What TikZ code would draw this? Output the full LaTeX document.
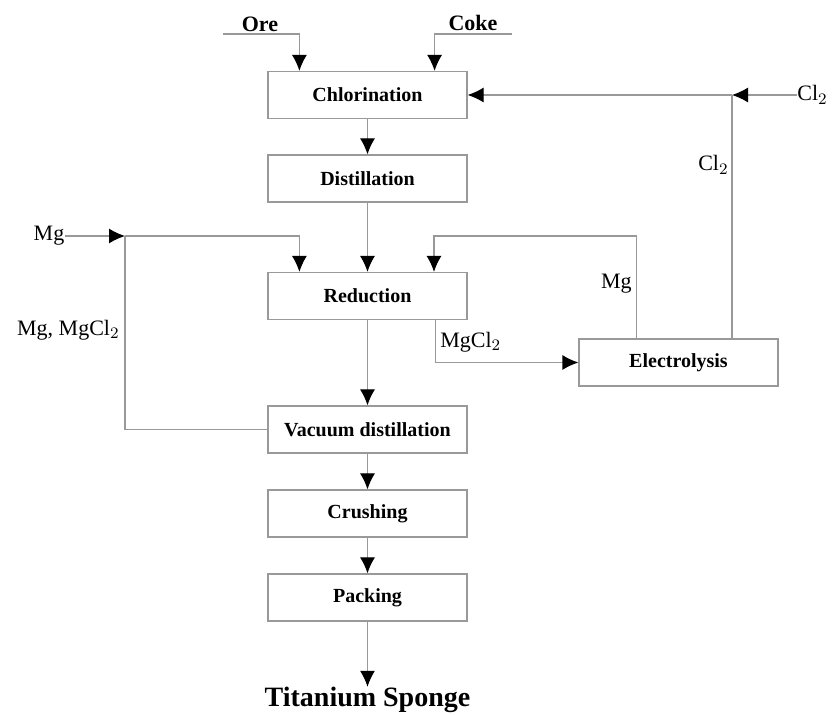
\documentclass[tikz,border=0pt]{standalone}
\usepackage{fontspec}
\setmainfont{Liberation Serif}
\usetikzlibrary{arrows.meta}

\tikzset{
    unitbox/.style={draw=gray!80, line width=0.6pt, minimum width=99.5pt, minimum height=23.5pt, inner sep=0pt, font=\fontsize{10}{12}\selectfont\bfseries},
    flow/.style={draw=gray!80, line width=0.6pt, -{Latex[length=8pt,width=7.5pt,black]}},
    pipe/.style={draw=gray!80, line width=0.6pt},
    stream/.style={inner sep=0pt, font=\fontsize{11}{13}\selectfont},
    feed/.style={inner sep=0pt, font=\fontsize{11}{13}\selectfont\bfseries}
}

\begin{document}
\begin{tikzpicture}[x=0.5pt, y=-0.5pt]
\useasboundingbox (0,0) rectangle (832,715);

% Main line
\node[unitbox] (chlor) at (367.5,95) {Chlorination};
\node[unitbox] (dist) at (367.5,178.5) {Distillation};
\node[unitbox] (red) at (367.5,296) {Reduction};
\node[unitbox] (vac) at (367.5,429.5) {Vacuum distillation};
\node[unitbox] (crush) at (367.5,513.5) {Crushing};
\node[unitbox] (pack) at (367.5,597.5) {Packing};
\node[feed, font=\fontsize{14}{16}\selectfont\bfseries] (sponge) at (367.5,700) {Titanium Sponge};
\node[unitbox] (elec) at (678.5,362.5) {Electrolysis};

\draw[flow] (chlor) -- (dist);
\draw[flow] (dist) -- (red);
\draw[flow] (red) -- (vac);
\draw[flow] (vac) -- (crush);
\draw[flow] (crush) -- (pack);
\draw[flow] (pack) -- (sponge);

% Feeds
\node[feed] (ore) at (260,24) {Ore};
\node[feed] (coke) at (473,23) {Coke};
\coordinate (oreend) at (223,34);
\coordinate (cokeend) at (512,34);
\draw[flow] (oreend) -| ([xshift=16pt]chlor.north west);
\draw[flow] (cokeend) -| ([xshift=-16.5pt]chlor.north east);

% Chlorine loop
\node[stream, anchor=west] (clin) at (797,95) {Cl$_2$};
\coordinate (junc) at (732,95);
\draw[flow] (clin.west) -- (junc);
\draw[flow] (junc) -- (chlor.east);
\draw[pipe] (elec.north -| junc) -- (junc);
\node[stream, anchor=east] (clup) at (729,165) {Cl$_2$};

% Magnesium loop
\coordinate (mgback) at (434,236);
\draw[flow] ([xshift=29pt]elec.north west) |- (mgback) -- (red.north -| mgback);
\node[stream, anchor=east] (mgup) at (632,284) {Mg};
\draw[flow] ([xshift=-16pt]red.south east) |- (elec.west);
\node[stream, anchor=west] (mgcl) at (440,342) {MgCl$_2$};

% Fresh Mg and recycle
\node[stream] (mgin) at (49,236) {Mg};
\coordinate (split) at (125,236);
\draw[flow] (mgin.east) -- (split);
\draw[flow] (split) -| ([xshift=16pt]red.north west);
\draw[pipe] (vac.west) -| (split);
\node[stream, anchor=east] (recyc) at (120,330) {Mg, MgCl$_2$};
\end{tikzpicture}
\end{document}
